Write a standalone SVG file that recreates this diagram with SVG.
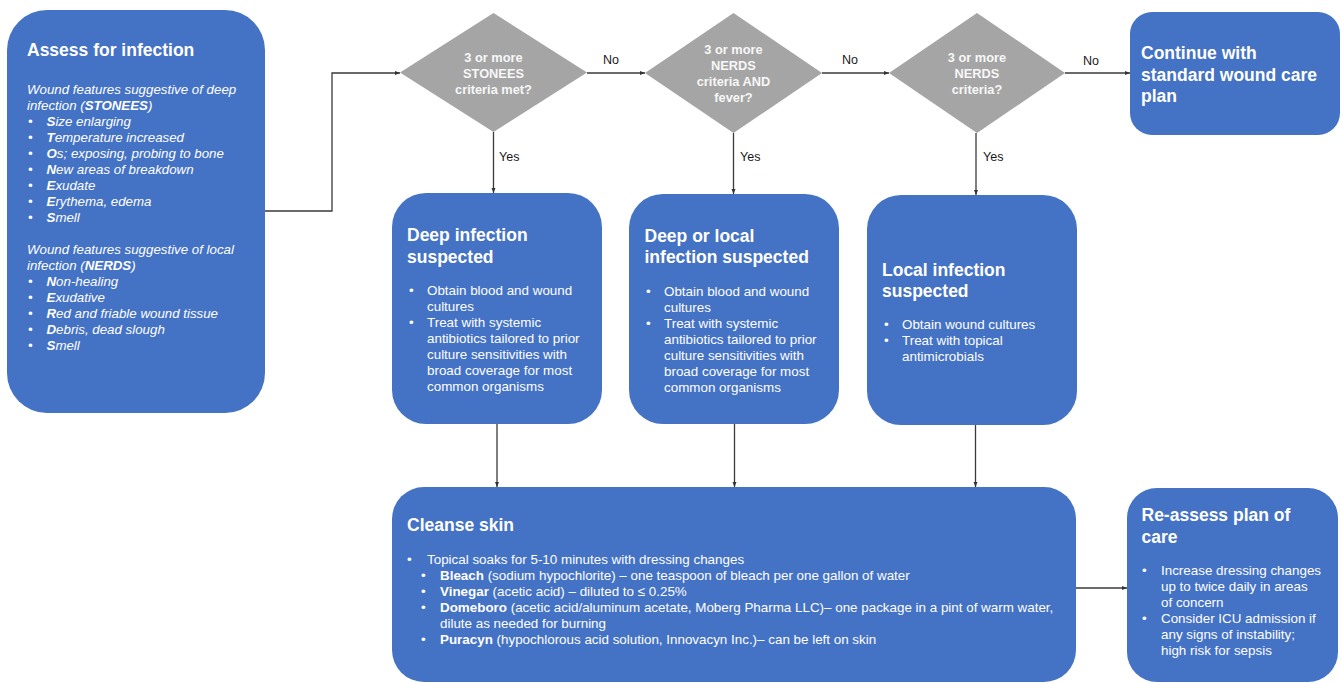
<svg xmlns="http://www.w3.org/2000/svg" width="1342" height="683" viewBox="0 0 1342 683">
<style>
.box{fill:#4472c4;}
.dia{fill:#a5a5a5;}
.t{font-family:"Liberation Sans",Arial,sans-serif;fill:#ffffff;}
.h{font-size:17.5px;font-weight:bold;}
.b{font-size:13.4px;}
.it{font-size:13.3px;font-style:italic;}
.bo{font-weight:bold;}
.dt{font-family:"Liberation Sans",Arial,sans-serif;font-size:12.8px;font-weight:bold;fill:#f7f7f7;text-anchor:middle;}
.lbl{font-family:"Liberation Sans",Arial,sans-serif;font-size:12.5px;fill:#1a1a1a;}
.c{stroke:#3a3a3a;stroke-width:1.3;fill:none;}
</style>
<defs>
<marker id="ah" viewBox="0 0 10 10" refX="10" refY="5" markerWidth="5" markerHeight="5" orient="auto" markerUnits="userSpaceOnUse"><path d="M0,1 L10,5 L0,9 z" fill="#333"/></marker>
</defs>

<g id="connectors">
<polyline class="c" points="265,211 332,211 332,73 400,73" marker-end="url(#ah)"/>
<line class="c" x1="587" y1="73" x2="645" y2="73" marker-end="url(#ah)"/>
<line class="c" x1="822" y1="73" x2="889" y2="73" marker-end="url(#ah)"/>
<line class="c" x1="1065" y1="73" x2="1130" y2="73" marker-end="url(#ah)"/>
<line class="c" x1="493.5" y1="132" x2="493.5" y2="193" marker-end="url(#ah)"/>
<line class="c" x1="733.5" y1="133" x2="733.5" y2="194" marker-end="url(#ah)"/>
<line class="c" x1="976" y1="133" x2="976" y2="195" marker-end="url(#ah)"/>
<line class="c" x1="497" y1="423" x2="497" y2="487" marker-end="url(#ah)"/>
<line class="c" x1="734.5" y1="424" x2="734.5" y2="487" marker-end="url(#ah)"/>
<line class="c" x1="975.5" y1="425" x2="975.5" y2="487" marker-end="url(#ah)"/>
<line class="c" x1="1076" y1="588" x2="1127" y2="588" marker-end="url(#ah)"/>
<text class="lbl" x="603" y="64">No</text>
<text class="lbl" x="842" y="64">No</text>
<text class="lbl" x="1083" y="65">No</text>
<text class="lbl" x="499" y="161">Yes</text>
<text class="lbl" x="740" y="161">Yes</text>
<text class="lbl" x="983" y="161">Yes</text>
</g>

<g id="assess">
<rect class="box" x="7" y="10" width="258" height="403" rx="40"/>
<text class="t h" x="27" y="56">Assess for infection</text>
<text class="t it" x="27" y="94">Wound features suggestive of deep</text>
<text class="t it" x="27" y="110">infection (<tspan class="bo">STONEES</tspan>)</text>
<g class="t it">
<text x="28" y="126">•</text><text x="46.5" y="126"><tspan class="bo">S</tspan>ize enlarging</text>
<text x="28" y="142">•</text><text x="46.5" y="142"><tspan class="bo">T</tspan>emperature increased</text>
<text x="28" y="158">•</text><text x="46.5" y="158"><tspan class="bo">O</tspan>s; exposing, probing to bone</text>
<text x="28" y="174">•</text><text x="46.5" y="174"><tspan class="bo">N</tspan>ew areas of breakdown</text>
<text x="28" y="190">•</text><text x="46.5" y="190"><tspan class="bo">E</tspan>xudate</text>
<text x="28" y="206">•</text><text x="46.5" y="206"><tspan class="bo">E</tspan>rythema, edema</text>
<text x="28" y="222">•</text><text x="46.5" y="222"><tspan class="bo">S</tspan>mell</text>
</g>
<text class="t it" x="27" y="254">Wound features suggestive of local</text>
<text class="t it" x="27" y="270">infection (<tspan class="bo">NERDS</tspan>)</text>
<g class="t it">
<text x="28" y="286">•</text><text x="46.5" y="286"><tspan class="bo">N</tspan>on-healing</text>
<text x="28" y="302">•</text><text x="46.5" y="302"><tspan class="bo">E</tspan>xudative</text>
<text x="28" y="318">•</text><text x="46.5" y="318"><tspan class="bo">R</tspan>ed and friable wound tissue</text>
<text x="28" y="334">•</text><text x="46.5" y="334"><tspan class="bo">D</tspan>ebris, dead slough</text>
<text x="28" y="350">•</text><text x="46.5" y="350"><tspan class="bo">S</tspan>mell</text>
</g>
</g>

<g id="dec1">
<polygon class="dia" points="493.5,13 587,72.5 493.5,132 400,72.5"/>
<text class="dt" x="493.5" y="62">3 or more</text>
<text class="dt" x="493.5" y="78">STONEES</text>
<text class="dt" x="493.5" y="94">criteria met?</text>
</g>

<g id="dec2">
<polygon class="dia" points="733.5,13 822,73 733.5,133 645,73"/>
<text class="dt" x="733.5" y="54">3 or more</text>
<text class="dt" x="733.5" y="70">NERDS</text>
<text class="dt" x="733.5" y="86">criteria AND</text>
<text class="dt" x="733.5" y="102">fever?</text>
</g>

<g id="dec3">
<polygon class="dia" points="977,13 1065,73 977,133 889,73"/>
<text class="dt" x="977" y="62">3 or more</text>
<text class="dt" x="977" y="78">NERDS</text>
<text class="dt" x="977" y="94">criteria?</text>
</g>

<g id="continue">
<rect class="box" x="1130" y="12" width="210" height="123" rx="22"/>
<text class="t h" x="1141" y="59">Continue with</text>
<text class="t h" x="1141" y="81">standard wound care</text>
<text class="t h" x="1141" y="102">plan</text>
</g>

<g id="deep">
<rect class="box" x="392" y="193" width="210" height="231" rx="34"/>
<text class="t h" x="407" y="241">Deep infection</text>
<text class="t h" x="407" y="263">suspected</text>
<g class="t b">
<text x="409" y="295">•</text><text x="427" y="295">Obtain blood and wound</text>
<text x="427" y="311">cultures</text>
<text x="409" y="327">•</text><text x="427" y="327">Treat with systemic</text>
<text x="427" y="343">antibiotics tailored to prior</text>
<text x="427" y="359">culture sensitivities with</text>
<text x="427" y="375">broad coverage for most</text>
<text x="427" y="391">common organisms</text>
</g>
</g>

<g id="deeplocal">
<rect class="box" x="629" y="194" width="210" height="230" rx="34"/>
<text class="t h" x="644.5" y="242">Deep or local</text>
<text class="t h" x="644.5" y="263">infection suspected</text>
<g class="t b">
<text x="646" y="296">•</text><text x="664" y="296">Obtain blood and wound</text>
<text x="664" y="312">cultures</text>
<text x="646" y="328">•</text><text x="664" y="328">Treat with systemic</text>
<text x="664" y="344">antibiotics tailored to prior</text>
<text x="664" y="360">culture sensitivities with</text>
<text x="664" y="376">broad coverage for most</text>
<text x="664" y="392">common organisms</text>
</g>
</g>

<g id="local">
<rect class="box" x="867" y="195" width="210" height="230" rx="34"/>
<text class="t h" x="882" y="276">Local infection</text>
<text class="t h" x="882" y="297">suspected</text>
<g class="t b">
<text x="884" y="329">•</text><text x="902" y="329">Obtain wound cultures</text>
<text x="884" y="345">•</text><text x="902" y="345">Treat with topical</text>
<text x="902" y="361">antimicrobials</text>
</g>
</g>

<g id="cleanse">
<rect class="box" x="392" y="487" width="684" height="195" rx="32"/>
<text class="t h" x="407" y="531">Cleanse skin</text>
<g class="t b">
<text x="407" y="564">•</text><text x="427" y="564">Topical soaks for 5-10 minutes with dressing changes</text>
<text x="421" y="580">•</text><text x="440" y="580"><tspan class="bo">Bleach</tspan> (sodium hypochlorite) – one teaspoon of bleach per one gallon of water</text>
<text x="421" y="596">•</text><text x="440" y="596"><tspan class="bo">Vinegar</tspan> (acetic acid) – diluted to ≤ 0.25%</text>
<text x="421" y="612">•</text><text x="440" y="612"><tspan class="bo">Domeboro</tspan> (acetic acid/aluminum acetate, Moberg Pharma LLC)– one package in a pint of warm water,</text>
<text x="440" y="628">dilute as needed for burning</text>
<text x="421" y="644">•</text><text x="440" y="644"><tspan class="bo">Puracyn</tspan> (hypochlorous acid solution, Innovacyn Inc.)– can be left on skin</text>
</g>
</g>

<g id="reassess">
<rect class="box" x="1127" y="488" width="211" height="194" rx="30"/>
<text class="t h" x="1141.5" y="521">Re-assess plan of</text>
<text class="t h" x="1141.5" y="543">care</text>
<g class="t b">
<text x="1142" y="575">•</text><text x="1161" y="575">Increase dressing changes</text>
<text x="1161" y="591">up to twice daily in areas</text>
<text x="1161" y="607">of concern</text>
<text x="1142" y="623">•</text><text x="1161" y="623">Consider ICU admission if</text>
<text x="1161" y="639">any signs of instability;</text>
<text x="1161" y="655">high risk for sepsis</text>
</g>
</g>
</svg>
